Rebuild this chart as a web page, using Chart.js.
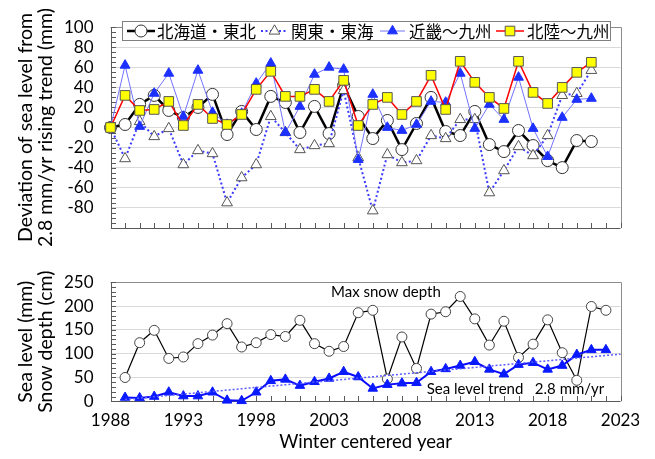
<!DOCTYPE html>
<html><head><meta charset="utf-8">
<script src="https://cdn.jsdelivr.net/npm/chart.js@4.4.1/dist/chart.umd.min.js"></script>
<style>
html,body{margin:0;padding:0;background:#fff;}
#wrap{position:relative;width:655px;height:459px;overflow:hidden;}
#c1{position:absolute;left:0;top:0;}
#c2{position:absolute;left:0;top:255px;}
</style></head><body>
<div id="wrap">
<canvas id="c1" width="655" height="255" style="width:655px;height:255px"></canvas>
<canvas id="c2" width="655" height="204" style="width:655px;height:204px"></canvas>
</div>
<script>
// ---------- data ----------
const seriesNames = ['北海道・東北', '関東・東海', '近畿～九州', '北陸～九州'];
const yearsTop = [1988,1989,1990,1991,1992,1993,1994,1995,1996,1997,1998,1999,2000,2001,2002,2003,2004,2005,2006,2007,2008,2009,2010,2011,2012,2013,2014,2015,2016,2017,2018,2019,2020,2021];
const hokkaidoTohoku = [0,3,23,32,17,10,20,33,-7,16,-2,31,25,-5,21,-6,42,11,-11,7,-22,4,30,-4,-8,16,-17,-24,-3,-18,-33,-40,-13,-14];
const kantoTokai     = [0,-31,6,-9,-1,-37,-23,-26,-75,-50,-37,11,-5,-22,-18,-16,37,-30,-83,-27,-35,-33,-8,-11,8,8,-65,-43,-19,-28,-8,32,34,57];
const kinkiKyushu    = [0,62,1,34,54,11,57,15,3,14,44,64,-5,21,53,60,58,-32,33,0,-3,3,26,25,54,-1,23,8,50,-1,-29,10,28,29];
const hokurikuKyushu = [0,32,17,18,26,2,23,9,3,13,38,56,31,31,38,26,47,2,23,30,13,26,52,18,66,45,30,19,66,35,24,40,55,65];

const yearsBottom = [1989,1990,1991,1992,1993,1994,1995,1996,1997,1998,1999,2000,2001,2002,2003,2004,2005,2006,2007,2008,2009,2010,2011,2012,2013,2014,2015,2016,2017,2018,2019,2020,2021,2022];
const maxSnowDepth = [50,123,149,90,93,121,139,163,114,123,140,136,170,121,105,115,186,191,47,135,69,183,188,220,173,118,168,92,120,171,102,44,199,191];
const seaLevel     = [8,7,10,19,11,11,19,2,1,19,43,46,33,41,48,62,51,27,35,38,39,62,68,75,83,67,57,77,81,67,75,98,108,108];
const trendYears  = [1989, 2023];
const trendValues = [4, 99];

const xTickYears   = [1988,1993,1998,2003,2008,2013,2018,2023];
const yTicksTop    = [-80,-60,-40,-20,0,20,40,60,80,100];
const yTicksBottom = [0,50,100,150,200,250];

const topTitle    = ['Deviation of sea level from', '2.8 mm/yr rising trend (mm)'];
const bottomTitle = ['Sea level (mm)', 'Snow depth (cm)'];
const xTitle = 'Winter centered year';
const snowLabel = 'Max snow depth';
const trendLabel = 'Sea level trend   2.8 mm/yr';

// ---------- helpers ----------
const FONT = 'Lato';
const pts = (xs, ys) => xs.map((x, i) => ({x, y: ys[i]}));

const frameTicks = {
  id: 'frameTicks',
  beforeDatasetsDraw(chart, args, opts) {
    const {ctx, chartArea: {left, right, top, bottom}, scales: {x, y}} = chart;
    ctx.save();
    ctx.lineWidth = 1;
    ctx.strokeStyle = '#8c8c8c';
    ctx.beginPath();
    ctx.moveTo(left, Math.round(top) + 0.5);
    ctx.lineTo(Math.round(right) + 0.5, Math.round(top) + 0.5);
    ctx.lineTo(Math.round(right) + 0.5, bottom);
    ctx.stroke();
    ctx.strokeStyle = '#595959';
    ctx.beginPath();
    ctx.moveTo(Math.round(left) + 0.5, top);
    ctx.lineTo(Math.round(left) + 0.5, Math.round(bottom) + 0.5);
    ctx.lineTo(right, Math.round(bottom) + 0.5);
    ctx.stroke();
    ctx.beginPath();
    for (let v = x.min; v <= x.max + 1e-6; v += opts.xStep) {
      const px = Math.round(x.getPixelForValue(v)) + 0.5;
      ctx.moveTo(px, Math.round(bottom));
      ctx.lineTo(px, Math.round(bottom) - 5);
    }
    for (let v = y.min; v <= y.max + 1e-6; v += opts.yStep) {
      const py = Math.round(y.getPixelForValue(v)) + 0.5;
      ctx.moveTo(Math.round(left), py);
      ctx.lineTo(Math.round(left) + 5, py);
    }
    ctx.stroke();
    ctx.restore();
  }
};

const legendBox = {
  id: 'legendBox',
  afterDatasetsDraw(chart) {
    const ctx = chart.ctx;
    ctx.save();
    ctx.fillStyle = '#fff';
    ctx.fillRect(122, 21, 489, 20);
    ctx.strokeStyle = '#7f7f7f';
    ctx.lineWidth = 1;
    ctx.strokeRect(122.5, 21.5, 488, 19);
    const items = [
      {ds: 0, x0: 127, x1: 155, tx: 157},
      {ds: 1, x0: 261, x1: 288, tx: 291},
      {ds: 2, x0: 380, x1: 405, tx: 409},
      {ds: 3, x0: 496, x1: 524, tx: 527}
    ];
    const cy = 31;
    items.forEach(it => {
      const d = chart.data.datasets[it.ds];
      ctx.save();
      ctx.strokeStyle = d.borderColor;
      ctx.lineWidth = d.borderWidth;
      ctx.setLineDash(d.borderDash || []);
      ctx.beginPath(); ctx.moveTo(it.x0, cy); ctx.lineTo(it.x1, cy); ctx.stroke();
      ctx.setLineDash([]);
      ctx.fillStyle = d.pointBackgroundColor;
      ctx.strokeStyle = d.pointBorderColor;
      ctx.lineWidth = d.pointBorderWidth;
      Chart.helpers.drawPoint(ctx, {pointStyle: d.pointStyle, radius: d.pointRadius, borderWidth: d.pointBorderWidth, rotation: 0}, (it.x0 + it.x1) / 2, cy);
      ctx.restore();
      ctx.fillStyle = '#000';
      ctx.font = '16.5px "Noto Sans CJK JP"';
      ctx.textBaseline = 'middle';
      ctx.textAlign = 'left';
      ctx.fillText(d.label, it.tx, cy + 1);
    });
    ctx.restore();
  }
};

const notes = {
  id: 'notes',
  afterDatasetsDraw(chart) {
    const {ctx, scales: {x, y}} = chart;
    ctx.save();
    ctx.fillStyle = '#000';
    ctx.font = '15px ' + FONT;
    ctx.textBaseline = 'middle';
    ctx.textAlign = 'center';
    ctx.fillText(snowLabel, x.getPixelForValue(2006.9), y.getPixelForValue(230));
    ctx.textAlign = 'left';
    ctx.fillText(trendLabel, x.getPixelForValue(2009.7), y.getPixelForValue(26));
    ctx.restore();
  }
};

function xScale(showLabels) {
  return {
    type: 'linear', min: 1988, max: 2023,
    afterBuildTicks: s => { s.ticks = xTickYears.map(v => ({value: v})); },
    afterFit: s => { s.height = showLabels ? 57.7 : 0; },
    grid: {display: false, drawTicks: false},
    border: {display: false},
    ticks: {display: showLabels, color: '#000', font: {family: FONT, size: 17}, padding: 9, maxRotation: 0, autoSkip: false,
            callback: v => String(v)},
    title: {display: showLabels, text: xTitle, color: '#000', font: {family: FONT, size: 18.5}, padding: {top: 0, bottom: 6}}
  };
}
function yScale(min, max, tickList, title) {
  return {
    type: 'linear', min, max,
    afterBuildTicks: s => { s.ticks = tickList.map(v => ({value: v})); },
    afterFit: s => { s.width = 110.5; },
    grid: {color: '#d9d9d9', lineWidth: 1, drawTicks: false},
    border: {display: false},
    ticks: {color: '#000', font: {family: FONT, size: 17}, padding: 17, callback: v => String(v)},
    title: {display: true, text: title, color: '#000', font: {family: FONT, size: 19.5, lineHeight: 1.03}, padding: {top: 16, bottom: 0}}
  };
}

Chart.defaults.animation = false;
Chart.defaults.font.family = FONT;

new Chart(document.getElementById('c1'), {
  type: 'line',
  data: {
    datasets: [
      {label: seriesNames[0], data: pts(yearsTop, hokkaidoTohoku), order: 4,
       borderColor: '#000', borderWidth: 2.5, pointStyle: 'circle', pointRadius: 6,
       pointBackgroundColor: '#fff', pointBorderColor: '#333', pointBorderWidth: 1},
      {label: seriesNames[1], data: pts(yearsTop, kantoTokai), order: 3,
       borderColor: '#3a3aff', borderWidth: 2, borderDash: [2, 2.5], pointStyle: 'triangle', pointRadius: 6.2,
       pointBackgroundColor: '#fff', pointBorderColor: '#555', pointBorderWidth: 1},
      {label: seriesNames[2], data: pts(yearsTop, kinkiKyushu), order: 2,
       borderColor: '#7373ff', borderWidth: 1, pointStyle: 'triangle', pointRadius: 5.7,
       pointBackgroundColor: '#1c30ff', pointBorderColor: '#1c30ff', pointBorderWidth: 1},
      {label: seriesNames[3], data: pts(yearsTop, hokurikuKyushu), order: 1,
       borderColor: '#ff0000', borderWidth: 1.5, pointStyle: 'rect', pointRadius: 6.8,
       pointBackgroundColor: '#ffff00', pointBorderColor: '#555', pointBorderWidth: 1}
    ].map(d => Object.assign(d, {clip: false, tension: 0, pointHoverRadius: d.pointRadius}))
  },
  options: {
    responsive: false,
    layout: {padding: {left: 0, right: 34.5, top: 26.7, bottom: 6.3}},
    plugins: {legend: {display: false}, tooltip: {enabled: false}, frameTicks: {xStep: 1, yStep: 5}},
    scales: {x: xScale(false), y: yScale(-100, 100, yTicksTop, topTitle)}
  },
  plugins: [frameTicks, legendBox]
});

new Chart(document.getElementById('c2'), {
  type: 'line',
  data: {
    datasets: [
      {label: snowLabel, data: pts(yearsBottom, maxSnowDepth), order: 3,
       borderColor: '#000', borderWidth: 1.2, pointStyle: 'circle', pointRadius: 5,
       pointBackgroundColor: '#fff', pointBorderColor: '#444', pointBorderWidth: 1},
      {label: 'Sea level', data: pts(yearsBottom, seaLevel), order: 2,
       borderColor: '#0a0aff', borderWidth: 2, pointStyle: 'triangle', pointRadius: 5.5,
       pointBackgroundColor: '#0a1aff', pointBorderColor: '#0a1aff', pointBorderWidth: 1},
      {label: trendLabel, data: pts(trendYears, trendValues), order: 1,
       borderColor: '#5b5bff', borderWidth: 1.5, borderDash: [2, 2], pointRadius: 0}
    ].map(d => Object.assign(d, {clip: false, tension: 0, pointHoverRadius: d.pointRadius}))
  },
  options: {
    responsive: false,
    layout: {padding: {left: 0, right: 34.5, top: 6.3, bottom: 0}},
    plugins: {legend: {display: false}, tooltip: {enabled: false}, frameTicks: {xStep: 1, yStep: 10}},
    scales: {x: xScale(true), y: yScale(0, 250, yTicksBottom, bottomTitle)}
  },
  plugins: [frameTicks, notes]
});
</script>
</body></html>
